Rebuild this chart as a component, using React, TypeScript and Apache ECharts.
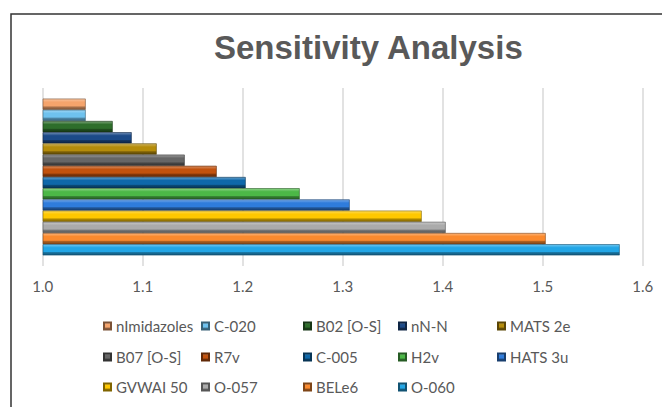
import React, { useEffect, useRef } from "react";
import * as echarts from "echarts";

const seriesNames = [
  "nImidazoles", "C-020", "B02 [O-S]", "nN-N", "MATS 2e",
  "B07 [O-S]", "R7v", "C-005", "H2v", "HATS 3u",
  "GVWAI 50", "O-057", "BELe6", "O-060",
];
const seriesValues = [
  1.043, 1.043, 1.070, 1.089, 1.114,
  1.142, 1.174, 1.203, 1.257, 1.307,
  1.379, 1.403, 1.503, 1.577,
];
const seriesColors = [
  "#F5A46C", "#6FC2EE", "#2E6E2B", "#1C4A88", "#B58C0A",
  "#666666", "#C2520E", "#0E68AA", "#4CB847", "#2F7CDC",
  "#FFC800", "#ABABAB", "#FB8A2E", "#22A6E6",
];
const categories = [""];
const axisMin = 1.0;
const axisMax = 1.6;
const axisStep = 0.1;
const titleText = "Sensitivity Analysis";

// legend layout
const legendCols = [103, 201, 303, 398, 497];
const legendRows = [326, 357, 387];

function shade(hex: string, f: number): string {
  const n = parseInt(hex.slice(1), 16);
  let r = (n >> 16) & 255, g = (n >> 8) & 255, b = n & 255;
  if (f >= 0) {
    r = Math.round(r + (255 - r) * f);
    g = Math.round(g + (255 - g) * f);
    b = Math.round(b + (255 - b) * f);
  } else {
    r = Math.round(r * (1 + f));
    g = Math.round(g * (1 + f));
    b = Math.round(b * (1 + f));
  }
  return "#" + ((1 << 24) + (r << 16) + (g << 8) + b).toString(16).slice(1);
}

function barFill(c: string) {
  return new echarts.graphic.LinearGradient(0, 0, 0, 1, [
    { offset: 0, color: shade(c, 0.35) },
    { offset: 0.22, color: shade(c, 0.1) },
    { offset: 0.3, color: c },
    { offset: 0.66, color: c },
    { offset: 0.76, color: shade(c, -0.3) },
    { offset: 1, color: shade(c, -0.5) },
  ]);
}

export default function App() {
  const ref = useRef<HTMLDivElement>(null);
  useEffect(() => {
    document.body.style.margin = "0";
    const chart = echarts.init(ref.current!, undefined, { renderer: "svg" });
    const font = "Lato, 'Liberation Sans', sans-serif";
    const legends = seriesNames.map((name, i) => ({
      data: [name],
      left: legendCols[i % 5],
      top: legendRows[Math.floor(i / 5)] - 9,
      padding: 0,
      itemWidth: 7,
      itemHeight: 7,
      icon: "rect",
      selectedMode: false,
      textStyle: { fontFamily: font, fontSize: 15, color: "#595959", lineHeight: 18 },
    }));
    chart.setOption({
      animation: false,
      backgroundColor: "#ffffff",
      title: {
        text: titleText,
        left: 214,
        top: 31,
        padding: 0,
        textStyle: {
          fontFamily: "'Liberation Sans', Arial, sans-serif",
          fontWeight: "bold",
          fontSize: 33,
          color: "#595959",
        },
      },
      graphic: [
        {
          type: "rect",
          z: -10,
          shape: { x: 11, y: 14, width: 900, height: 600 },
          style: { fill: "none", stroke: "#333333", lineWidth: 1.5 },
          silent: true,
        },
      ],
      legend: legends,
      grid: { left: 42.7, top: 88, width: 600, height: 178, containLabel: false },
      xAxis: {
        type: "value",
        min: axisMin,
        max: axisMax,
        interval: axisStep,
        startValue: axisMin,
        axisLine: { show: false },
        axisTick: { show: false },
        splitLine: { show: true, lineStyle: { color: "#D9D9D9", width: 1.5 } },
        axisLabel: {
          formatter: (v: number) => v.toFixed(1),
          fontFamily: font,
          fontSize: 15,
          color: "#595959",
          margin: 12,
        },
      },
      yAxis: {
        type: "category",
        data: categories,
        inverse: true,
        axisLine: { show: false },
        axisTick: { show: false },
        axisLabel: { show: false },
      },
      series: seriesNames.map((name, i) => ({
        name,
        type: "bar",
        data: [seriesValues[i]],
        barWidth: 11.2,
        barGap: "0%",
        itemStyle: {
          color: barFill(seriesColors[i]),
          borderColor: shade(seriesColors[i], -0.5),
          borderWidth: 0.6,
        },
      })),
    });
    return () => chart.dispose();
  }, []);
  return <div ref={ref} style={{ width: 662, height: 407 }} />;
}
